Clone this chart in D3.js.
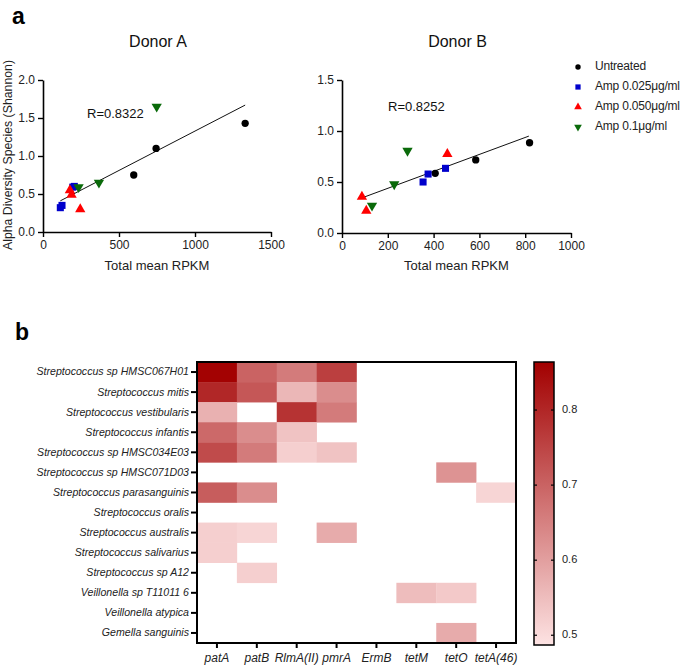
<!DOCTYPE html>
<html>
<head>
<meta charset="utf-8">
<script src="https://cdn.jsdelivr.net/npm/d3@7"></script>
<style>
  body { margin: 0; background: #fff; }
  svg { font-family: "Liberation Sans", Arial, sans-serif; }
</style>
</head>
<body>
<svg id="chart" width="685" height="666"></svg>
<script>
(function () {
  'use strict';

  // ---- panel a data ----
  var groups = ['Untreated', 'Amp 0.025\u03bcg/ml', 'Amp 0.050\u03bcg/ml', 'Amp 0.1\u03bcg/ml'];
  var groupColors = ['#000000', '#0000cc', '#ff0000', '#0a6a0a'];

  // [total mean RPKM, Shannon], one array per group
  var donorA = [
    [[597, 0.75], [744, 1.10], [1330, 1.43]],
    [[114, 0.32], [125, 0.35], [196, 0.59], [206, 0.60]],
    [[177, 0.55], [188, 0.49], [245, 0.30]],
    [[234, 0.59], [368, 0.65], [748, 1.65]]
  ];
  var donorB = [
    [[407, 0.585], [584, 0.716], [819, 0.885]],
    [[354, 0.50], [376, 0.578], [452, 0.634]],
    [[87, 0.356], [106, 0.219], [460, 0.775]],
    [[131, 0.268], [228, 0.477], [286, 0.807]]
  ];
  var fitA = [[114, 0.41], [1330, 1.67]];
  var fitB = [[94, 0.35], [816, 0.95]];
  var rA = 'R=0.8322';
  var rB = 'R=0.8252';

  // ---- panel b data ----
  var species = ['Streptococcus sp HMSC067H01', 'Streptococcus mitis', 'Streptococcus vestibularis',
    'Streptococcus infantis', 'Streptococcus sp HMSC034E03', 'Streptococcus sp HMSC071D03',
    'Streptococcus parasanguinis', 'Streptococcus oralis', 'Streptococcus australis',
    'Streptococcus salivarius', 'Streptococcus sp A12', 'Veillonella sp T11011 6',
    'Veillonella atypica', 'Gemella sanguinis'];
  var genes = ['patA', 'patB', 'RlmA(II)', 'pmrA', 'ErmB', 'tetM', 'tetO', 'tetA(46)'];
  var values = [
    [0.86, 0.70, 0.66, 0.76, null, null, null, null],
    [0.80, 0.72, 0.56, 0.63, null, null, null, null],
    [0.57, null, 0.78, 0.66, null, null, null, null],
    [0.69, 0.63, 0.54, null, null, null, null, null],
    [0.74, 0.66, 0.52, 0.54, null, null, null, null],
    [null, null, null, null, null, null, 0.62, null],
    [0.71, 0.63, null, null, null, null, null, 0.51],
    [null, null, null, null, null, null, null, null],
    [0.52, 0.51, null, 0.58, null, null, null, null],
    [0.52, null, null, null, null, null, null, null],
    [null, 0.52, null, null, null, null, null, null],
    [null, null, null, null, null, 0.55, 0.53, null],
    [null, null, null, null, null, null, null, null],
    [null, null, null, null, null, null, 0.58, null]
  ];
  var colorTicks = [0.5, 0.6, 0.7, 0.8];
  var colorDomain = [0.487, 0.864];

  var svg = d3.select('#chart');

  var symbolTypes = [d3.symbolCircle, d3.symbolSquare, d3.symbolTriangle, d3.symbolTriangle];
  var symbolSizes = [42, 50, 46, 46];

  function symbolPath(g, scale) {
    return d3.symbol().type(symbolTypes[g]).size(symbolSizes[g] * (scale || 1))();
  }

  function styleAxis(sel) {
    sel.selectAll('path.domain').attr('stroke', '#000').attr('stroke-width', 1.6);
    sel.selectAll('.tick line').attr('stroke', '#000').attr('stroke-width', 1.4);
    sel.selectAll('.tick text').attr('fill', '#222').style('font-size', '12px');
  }

  function drawScatter(cfg) {
    var x = d3.scaleLinear().domain(cfg.xDomain).range([cfg.left, cfg.right]);
    var y = d3.scaleLinear().domain(cfg.yDomain).range([cfg.bottom, cfg.top]);
    var g = svg.append('g');

    g.append('g')
      .attr('transform', 'translate(0,' + cfg.bottom + ')')
      .call(d3.axisBottom(x).tickValues(cfg.xTicks).tickFormat(d3.format('d')).tickSize(5).tickSizeOuter(0).tickPadding(3))
      .call(styleAxis);

    g.append('g')
      .attr('transform', 'translate(' + cfg.left + ',0)')
      .call(d3.axisLeft(y).tickValues(cfg.yTicks).tickFormat(d3.format('.1f')).tickSize(5).tickSizeOuter(0).tickPadding(3))
      .call(styleAxis);

    g.append('text')
      .attr('x', (cfg.left + cfg.right) / 2 + 1)
      .attr('y', 43)
      .attr('text-anchor', 'middle')
      .attr('dominant-baseline', 'middle')
      .style('font-size', '16px')
      .attr('fill', '#111')
      .text(cfg.title);

    g.append('text')
      .attr('x', (cfg.left + cfg.right) / 2)
      .attr('y', 270)
      .attr('text-anchor', 'middle')
      .style('font-size', '13px')
      .attr('fill', '#222')
      .text('Total mean RPKM');

    g.append('line')
      .attr('x1', x(cfg.fit[0][0])).attr('y1', y(cfg.fit[0][1]))
      .attr('x2', x(cfg.fit[1][0])).attr('y2', y(cfg.fit[1][1]))
      .attr('stroke', '#111').attr('stroke-width', 1);

    g.append('text')
      .attr('x', cfg.rPos[0])
      .attr('y', cfg.rPos[1])
      .attr('dominant-baseline', 'middle')
      .style('font-size', '13px')
      .attr('fill', '#111')
      .text(cfg.r);

    cfg.data.forEach(function (pts, gi) {
      g.selectAll('path.pt' + gi)
        .data(pts)
        .enter().append('path')
        .attr('class', 'pt' + gi)
        .attr('d', symbolPath(gi))
        .attr('fill', groupColors[gi])
        .attr('transform', function (d) {
          return 'translate(' + x(d[0]) + ',' + y(d[1]) + ')' + (gi === 3 ? ' rotate(180)' : '');
        });
    });
  }

  // panel labels
  svg.append('text').attr('x', 12).attr('y', 24).style('font-size', '23px').style('font-weight', 'bold').text('a');
  svg.append('text').attr('x', 15).attr('y', 340).style('font-size', '23px').style('font-weight', 'bold').text('b');

  drawScatter({
    title: 'Donor A', data: donorA, fit: fitA, r: rA, rPos: [87, 115],
    left: 43, right: 271, top: 80, bottom: 232,
    xDomain: [0, 1500], yDomain: [0, 2], xTicks: [0, 500, 1000, 1500], yTicks: [0, 0.5, 1, 1.5, 2]
  });
  drawScatter({
    title: 'Donor B', data: donorB, fit: fitB, r: rB, rPos: [388, 108],
    left: 342, right: 571, top: 80, bottom: 233,
    xDomain: [0, 1000], yDomain: [0, 1.5], xTicks: [0, 200, 400, 600, 800, 1000], yTicks: [0, 0.5, 1, 1.5]
  });

  svg.append('text')
    .attr('transform', 'translate(12,155) rotate(-90)')
    .attr('text-anchor', 'middle')
    .style('font-size', '12.3px')
    .attr('fill', '#222')
    .text('Alpha Diversity Species (Shannon)');

  // legend
  var legend = svg.append('g').attr('transform', 'translate(578,67)');
  groups.forEach(function (name, gi) {
    var row = legend.append('g').attr('transform', 'translate(0,' + (gi * 20) + ')');
    row.append('path')
      .attr('d', symbolPath(gi, 0.55))
      .attr('fill', groupColors[gi])
      .attr('transform', gi === 3 ? 'rotate(180)' : null);
    row.append('text')
      .attr('x', 17).attr('y', 0)
      .attr('dominant-baseline', 'middle')
      .style('font-size', '12px')
      .style('letter-spacing', '-0.2px')
      .attr('fill', '#222')
      .text(name);
  });

  // ---- heatmap ----
  var hm = { left: 197, right: 516, top: 362, bottom: 643 };
  var hx = d3.scaleBand().domain(genes).range([hm.left, hm.right]);
  var hy = d3.scaleBand().domain(species).range([hm.top, hm.bottom]);
  var color = d3.scaleLinear().domain(colorDomain).range(['#fde3e3', '#a20000']).interpolate(d3.interpolateRgb).clamp(true);

  var cells = [];
  values.forEach(function (row, i) {
    row.forEach(function (v, j) {
      if (v !== null) cells.push({ s: species[i], g: genes[j], v: v });
    });
  });

  svg.append('g').selectAll('rect')
    .data(cells)
    .enter().append('rect')
    .attr('x', function (d) { return hx(d.g); })
    .attr('y', function (d) { return hy(d.s); })
    .attr('width', hx.bandwidth() + 0.3)
    .attr('height', hy.bandwidth() + 0.3)
    .attr('fill', function (d) { return color(d.v); });

  svg.append('rect')
    .attr('x', hm.left).attr('y', hm.top)
    .attr('width', hm.right - hm.left).attr('height', hm.bottom - hm.top)
    .attr('fill', 'none').attr('stroke', '#000').attr('stroke-width', 2);

  var yAx = svg.append('g')
    .attr('transform', 'translate(' + hm.left + ',0)')
    .call(d3.axisLeft(hy).tickSize(6).tickSizeOuter(0).tickPadding(2));
  yAx.select('path.domain').remove();
  yAx.selectAll('.tick line').attr('stroke', '#000').attr('stroke-width', 2);
  yAx.selectAll('.tick text').style('font-size', '10.6px').style('font-style', 'italic').attr('fill', '#222');

  var xAx = svg.append('g')
    .attr('transform', 'translate(0,' + hm.bottom + ')')
    .call(d3.axisBottom(hx).tickSize(5).tickSizeOuter(0).tickPadding(5));
  xAx.select('path.domain').remove();
  xAx.selectAll('.tick line').attr('stroke', '#000').attr('stroke-width', 2);
  xAx.selectAll('.tick text').style('font-size', '12px').style('font-style', 'italic').attr('fill', '#222');

  // ---- colour bar ----
  var cb = { left: 534, right: 554, top: 362, bottom: 645 };
  var cy = d3.scaleLinear().domain(colorDomain).range([cb.bottom, cb.top]);
  var grad = svg.append('defs').append('linearGradient')
    .attr('id', 'cbar').attr('x1', 0).attr('x2', 0).attr('y1', 1).attr('y2', 0);
  d3.range(0, 1.001, 0.1).forEach(function (t) {
    grad.append('stop')
      .attr('offset', t)
      .attr('stop-color', color(colorDomain[0] + t * (colorDomain[1] - colorDomain[0])));
  });
  svg.append('rect')
    .attr('x', cb.left).attr('y', cb.top)
    .attr('width', cb.right - cb.left).attr('height', cb.bottom - cb.top)
    .attr('fill', 'url(#cbar)').attr('stroke', '#000').attr('stroke-width', 1.5);

  var cbTicks = svg.append('g').selectAll('g')
    .data(colorTicks)
    .enter().append('g')
    .attr('transform', function (d) { return 'translate(0,' + cy(d) + ')'; });
  cbTicks.append('line').attr('x1', cb.left).attr('x2', cb.left + 3).attr('stroke', '#000').attr('stroke-width', 1.2);
  cbTicks.append('line').attr('x1', cb.right - 3).attr('x2', cb.right).attr('stroke', '#000').attr('stroke-width', 1.2);
  cbTicks.append('text')
    .attr('x', cb.right + 8)
    .attr('dominant-baseline', 'middle')
    .style('font-size', '11px')
    .attr('fill', '#222')
    .text(function (d) { return d3.format('.1f')(d); });
})();
</script>
</body>
</html>
